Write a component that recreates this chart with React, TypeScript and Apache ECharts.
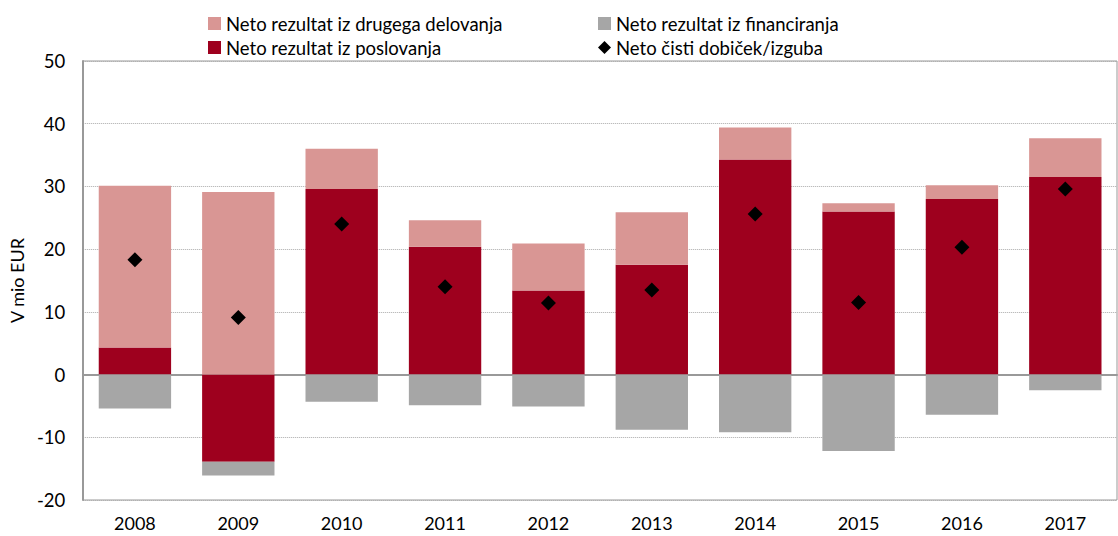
import React, { useEffect, useRef } from "react";
import * as echarts from "echarts";

const years = ["2008", "2009", "2010", "2011", "2012", "2013", "2014", "2015", "2016", "2017"];
const poslovanje = [4.3, -13.9, 29.6, 20.4, 13.4, 17.5, 34.3, 26.0, 28.0, 31.5];
const drugo = [25.8, 29.1, 6.4, 4.2, 7.5, 8.4, 5.1, 1.3, 2.2, 6.2];
const financiranje = [-5.4, -2.2, -4.35, -4.9, -5.1, -8.8, -9.2, -12.2, -6.4, -2.5];
const cistiDobicek = [18.3, 9.1, 24.0, 14.0, 11.4, 13.5, 25.6, 11.5, 20.3, 29.6];

const N_DRUGO = "Neto rezultat iz drugega delovanja";
const N_POSL = "Neto rezultat iz poslovanja";
const N_FIN = "Neto rezultat iz financiranja";
const N_CISTI = "Neto čisti dobiček/izguba";

const FONT = "Lato";

export default function App() {
  const ref = useRef<HTMLDivElement>(null);
  useEffect(() => {
    const chart = echarts.init(ref.current!, null, { renderer: "svg" });
    const legendText = { color: "#000", fontSize: 18.5, fontFamily: FONT };
    chart.setOption({
      animation: false,
      textStyle: { fontFamily: FONT },
      legend: [
        {
          left: 203,
          top: 9,
          orient: "vertical",
          itemGap: 5,
          itemWidth: 13,
          itemHeight: 13,
          textStyle: legendText,
          data: [
            { name: N_DRUGO, icon: "rect" },
            { name: N_POSL, icon: "rect" },
          ],
        },
        {
          left: 593,
          top: 9,
          orient: "vertical",
          itemGap: 5,
          itemWidth: 13,
          itemHeight: 13,
          textStyle: legendText,
          data: [
            { name: N_FIN, icon: "rect" },
            { name: N_CISTI, icon: "diamond" },
          ],
        },
      ],
      grid: {
        left: 80,
        right: 1,
        top: 61,
        bottom: 36,
        show: true,
        borderColor: "#999",
        borderWidth: 1,
      },
      xAxis: {
        type: "category",
        data: years,
        axisLine: { lineStyle: { color: "#999", width: 2 } },
        axisTick: { show: false },
        axisLabel: { color: "#000", fontSize: 18, margin: 14 },
      },
      yAxis: {
        type: "value",
        min: -20,
        max: 50,
        interval: 10,
        name: "V mio EUR",
        nameLocation: "middle",
        nameGap: 52,
        nameTextStyle: { color: "#000", fontSize: 18 },
        axisLine: { show: true, lineStyle: { color: "#999", width: 2 } },
        axisTick: { show: false },
        axisLabel: { color: "#000", fontSize: 18.5, margin: 18 },
        splitLine: { lineStyle: { color: "#aaa", type: [1, 1], width: 1 } },
      },
      series: [
        {
          name: N_POSL,
          type: "bar",
          stack: "s",
          barWidth: "70%",
          data: poslovanje,
          itemStyle: { color: "#9e001e" },
        },
        {
          name: N_DRUGO,
          type: "bar",
          stack: "s",
          data: drugo,
          itemStyle: { color: "#d99694" },
        },
        {
          name: N_FIN,
          type: "bar",
          stack: "s",
          data: financiranje,
          itemStyle: { color: "#a6a6a6" },
        },
        {
          name: N_CISTI,
          type: "scatter",
          symbol: "diamond",
          symbolSize: 15,
          data: cistiDobicek,
          itemStyle: { color: "#000", opacity: 1 },
          z: 5,
        },
      ],
    });
    return () => chart.dispose();
  }, []);
  return <div ref={ref} style={{ width: 1118, height: 536, position: "absolute", left: 0, top: 0 }} />;
}
